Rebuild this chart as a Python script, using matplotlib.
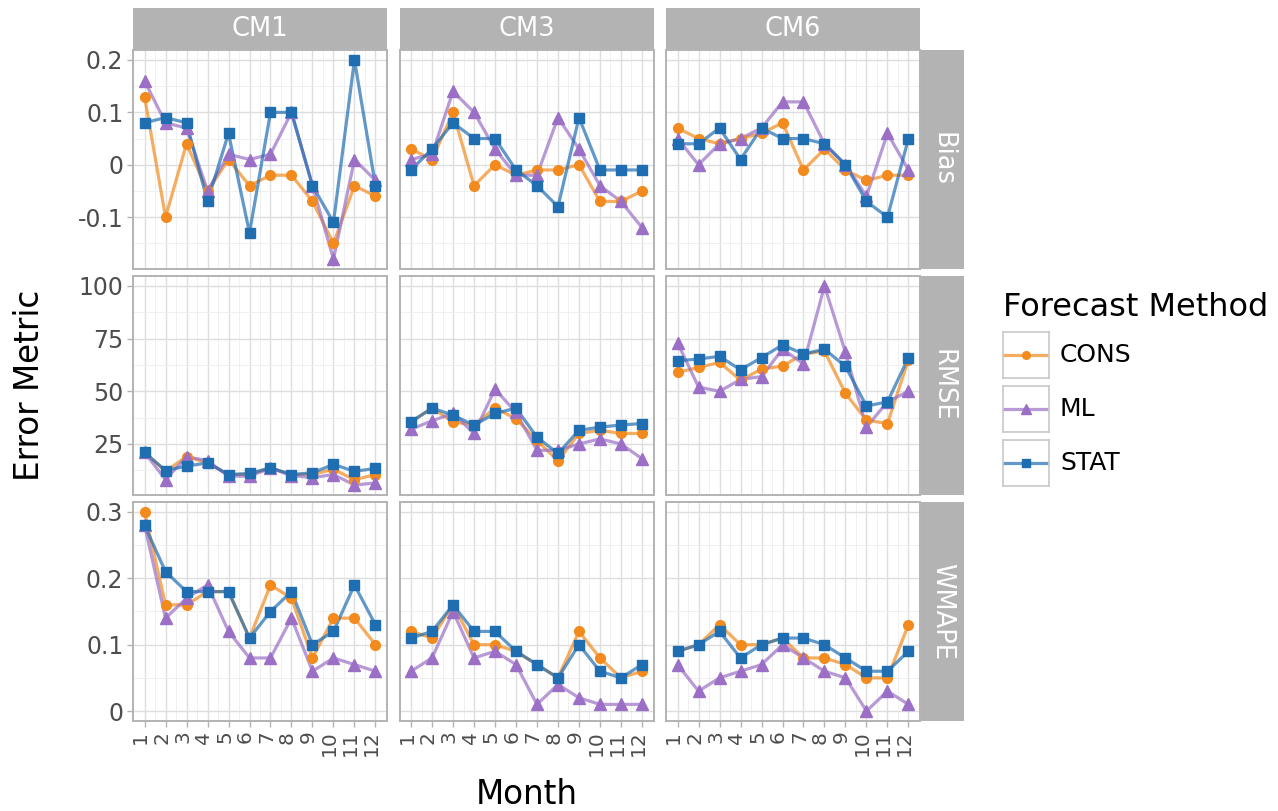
import matplotlib
matplotlib.use("Agg")
import matplotlib.pyplot as plt
import matplotlib.transforms as mtransforms
from matplotlib.ticker import FixedLocator, MultipleLocator

months = list(range(1, 13))
methods = ["CONS", "ML", "STAT"]
cms = ["CM1", "CM3", "CM6"]
metrics = ["Bias", "RMSE", "WMAPE"]

# Bias
cm1_bias_cons = [0.13, -0.10, 0.04, -0.05, 0.01, -0.04, -0.02, -0.02, -0.07, -0.15, -0.04, -0.06]
cm1_bias_ml   = [0.16, 0.08, 0.07, -0.05, 0.02, 0.01, 0.02, 0.10, -0.04, -0.18, 0.01, -0.03]
cm1_bias_stat = [0.08, 0.09, 0.08, -0.07, 0.06, -0.13, 0.10, 0.10, -0.04, -0.11, 0.20, -0.04]
cm3_bias_cons = [0.03, 0.01, 0.10, -0.04, 0.00, -0.02, -0.01, -0.01, 0.00, -0.07, -0.07, -0.05]
cm3_bias_ml   = [0.01, 0.02, 0.14, 0.10, 0.03, -0.02, -0.02, 0.09, 0.03, -0.04, -0.07, -0.12]
cm3_bias_stat = [-0.01, 0.03, 0.08, 0.05, 0.05, -0.01, -0.04, -0.08, 0.09, -0.01, -0.01, -0.01]
cm6_bias_cons = [0.07, 0.05, 0.04, 0.05, 0.06, 0.08, -0.01, 0.03, -0.01, -0.03, -0.02, -0.02]
cm6_bias_ml   = [0.05, 0.00, 0.04, 0.05, 0.07, 0.12, 0.12, 0.04, 0.00, -0.06, 0.06, -0.01]
cm6_bias_stat = [0.04, 0.04, 0.07, 0.01, 0.07, 0.05, 0.05, 0.04, 0.00, -0.07, -0.10, 0.05]

# RMSE
cm1_rmse_cons = [21, 12, 19, 16, 10.5, 10.5, 13.5, 10.5, 10.5, 13, 8, 10.5]
cm1_rmse_ml   = [21, 8, 19, 17, 9.7, 9.7, 13.5, 10, 9, 10.5, 5.5, 6.5]
cm1_rmse_stat = [21, 12.4, 14.5, 16, 10.5, 11, 13.7, 10.5, 11.3, 15.3, 12, 13.4]
cm3_rmse_cons = [35.5, 42, 35.5, 34, 42, 37, 26.6, 17, 30, 31.5, 30, 30]
cm3_rmse_ml   = [32, 36, 39.5, 30, 51, 40, 22, 22, 25, 27.4, 25, 18]
cm3_rmse_stat = [35.5, 42, 38.7, 33.9, 39.5, 42, 28.2, 20.5, 31.5, 33, 34, 34.7]
cm6_rmse_cons = [59, 61.3, 63.7, 55.3, 60.5, 62, 67.7, 69, 49, 36.3, 34.7, 65]
cm6_rmse_ml   = [73, 52, 50, 55.6, 57, 70, 63, 100, 68.5, 33, 45, 50]
cm6_rmse_stat = [64.5, 65.3, 66.6, 60.2, 66, 72, 67.7, 70, 61.8, 43, 45, 66]

# WMAPE
cm1_wmape_cons = [0.30, 0.16, 0.16, 0.18, 0.18, 0.11, 0.19, 0.17, 0.08, 0.14, 0.14, 0.10]
cm1_wmape_ml   = [0.28, 0.14, 0.17, 0.19, 0.12, 0.08, 0.08, 0.14, 0.06, 0.08, 0.07, 0.06]
cm1_wmape_stat = [0.28, 0.21, 0.18, 0.18, 0.18, 0.11, 0.15, 0.18, 0.10, 0.12, 0.19, 0.13]
cm3_wmape_cons = [0.12, 0.11, 0.16, 0.10, 0.10, 0.09, 0.07, 0.05, 0.12, 0.08, 0.05, 0.06]
cm3_wmape_ml   = [0.06, 0.08, 0.15, 0.08, 0.09, 0.07, 0.01, 0.04, 0.02, 0.01, 0.01, 0.01]
cm3_wmape_stat = [0.11, 0.12, 0.16, 0.12, 0.12, 0.09, 0.07, 0.05, 0.10, 0.06, 0.05, 0.07]
cm6_wmape_cons = [0.09, 0.10, 0.13, 0.10, 0.10, 0.11, 0.08, 0.08, 0.07, 0.05, 0.05, 0.13]
cm6_wmape_ml   = [0.07, 0.03, 0.05, 0.06, 0.07, 0.10, 0.08, 0.06, 0.05, 0.00, 0.03, 0.01]
cm6_wmape_stat = [0.09, 0.10, 0.12, 0.08, 0.10, 0.11, 0.11, 0.10, 0.08, 0.06, 0.06, 0.09]

panels = {
    ("Bias", "CM1"): [cm1_bias_cons, cm1_bias_ml, cm1_bias_stat],
    ("Bias", "CM3"): [cm3_bias_cons, cm3_bias_ml, cm3_bias_stat],
    ("Bias", "CM6"): [cm6_bias_cons, cm6_bias_ml, cm6_bias_stat],
    ("RMSE", "CM1"): [cm1_rmse_cons, cm1_rmse_ml, cm1_rmse_stat],
    ("RMSE", "CM3"): [cm3_rmse_cons, cm3_rmse_ml, cm3_rmse_stat],
    ("RMSE", "CM6"): [cm6_rmse_cons, cm6_rmse_ml, cm6_rmse_stat],
    ("WMAPE", "CM1"): [cm1_wmape_cons, cm1_wmape_ml, cm1_wmape_stat],
    ("WMAPE", "CM3"): [cm3_wmape_cons, cm3_wmape_ml, cm3_wmape_stat],
    ("WMAPE", "CM6"): [cm6_wmape_cons, cm6_wmape_ml, cm6_wmape_stat],
}

y_breaks = {
    "Bias": ([-0.1, 0, 0.1, 0.2], ["-0.1", "0", "0.1", "0.2"], 0.05),
    "RMSE": ([25, 50, 75, 100], ["25", "50", "75", "100"], 12.5),
    "WMAPE": ([0, 0.1, 0.2, 0.3], ["0", "0.1", "0.2", "0.3"], 0.05),
}

colors = ["#F28A1E", "#9B6FC6", "#1F6EB2"]
markers = ["o", "^", "s"]
msizes = [7, 8, 7]

W, H = 1278, 811
fig = plt.figure(figsize=(W / 100, H / 100), dpi=100)


def box(x0, y0, w, h):
    return [x0 / W, 1 - (y0 + h) / H, w / W, h / H]


col_x = [133, 399.5, 666]
row_y = [50, 276, 502]
pw, ph = 254, 219
strip_col = "#b3b3b3"
border_col = "#b3b3b3"

axes = {}
for i, metric in enumerate(metrics):
    for j, cm in enumerate(cms):
        ax = fig.add_axes(box(col_x[j], row_y[i], pw, ph))
        if j > 0:
            ax.sharey(axes[(i, 0)])
        if i > 0 or j > 0:
            ax.sharex(axes[(0, 0)])
        axes[(i, j)] = ax
        for k in range(3):
            ax.plot(months, panels[(metric, cm)][k], color=colors[k], lw=2.3,
                    alpha=0.7, zorder=2)
            ax.plot(months, panels[(metric, cm)][k], color=colors[k], lw=0,
                    marker=markers[k], ms=msizes[k], zorder=3)
        ax.set_axisbelow(True)

shift = mtransforms.ScaledTranslation(-4 / 100, 0, fig.dpi_scale_trans)
for (i, j), ax in axes.items():
    metric = metrics[i]
    ticks, labels, minor = y_breaks[metric]
    ax.set_xlim(0.45, 12.55)
    ax.xaxis.set_major_locator(FixedLocator(months))
    ax.xaxis.set_minor_locator(FixedLocator([m + 0.5 for m in months[:-1]]))
    ax.yaxis.set_major_locator(FixedLocator(ticks))
    ax.yaxis.set_minor_locator(MultipleLocator(minor))
    ax.grid(which="major", color="#dedede", lw=1.0)
    ax.grid(which="minor", color="#eeeeee", lw=0.6)
    for s in ax.spines.values():
        s.set_color(border_col)
        s.set_linewidth(1.4)
    ax.tick_params(which="major", color=border_col, length=4, width=1,
                   labelsize=17, labelcolor="#4d4d4d", pad=3)
    ax.tick_params(which="minor", length=0)
    if j == 0:
        ax.set_yticks(ticks)
        ax.set_yticklabels(labels)
    else:
        ax.tick_params(axis="y", labelleft=False, length=0)
    if i == 2:
        ax.set_xticks(months)
        ax.set_xticklabels([str(m) for m in months], rotation=90, va="top",
                           fontsize=14.5)
        for lab in ax.get_xticklabels():
            lab.set_transform(lab.get_transform() + shift)
    else:
        ax.tick_params(axis="x", labelbottom=False, length=0)

# shared y range per row, 5% padding like the source
for i, metric in enumerate(metrics):
    vals = [v for cm in cms for s in panels[(metric, cm)] for v in s]
    lo, hi = min(vals), max(vals)
    pad = 0.05 * (hi - lo)
    axes[(i, 0)].set_ylim(lo - pad, hi + pad)

# strips
for j, cm in enumerate(cms):
    sx = fig.add_axes(box(col_x[j], 8, pw, 41))
    sx.set_facecolor(strip_col)
    sx.set_xticks([]); sx.set_yticks([])
    for s in sx.spines.values():
        s.set_visible(False)
    sx.text(0.5, 0.5, cm, color="white", fontsize=18.5, ha="center", va="center",
            transform=sx.transAxes)

for i, metric in enumerate(metrics):
    sx = fig.add_axes(box(921, row_y[i], 43, ph))
    sx.set_facecolor(strip_col)
    sx.set_xticks([]); sx.set_yticks([])
    for s in sx.spines.values():
        s.set_visible(False)
    sx.text(0.5, 0.5, metric, color="white", fontsize=18.5, ha="center", va="center",
            rotation=-90, transform=sx.transAxes)

fig.text(30 / W, 1 - 385 / H, "Error Metric", rotation=90, fontsize=23.5,
         ha="center", va="center")
fig.text(527 / W, 1 - 795 / H, "Month", fontsize=23.5, ha="center", va="center")

# legend
fig.text(1003 / W, 1 - 308 / H, "Forecast Method", fontsize=23, ha="left", va="center")
for k, name in enumerate(methods):
    ky = 332 + k * 54
    kx = fig.add_axes(box(1003, ky, 46, 46))
    kx.set_xlim(0, 1); kx.set_ylim(0, 1)
    kx.set_xticks([]); kx.set_yticks([])
    for s in kx.spines.values():
        s.set_color("#c8c8c8")
        s.set_linewidth(1.2)
    kx.plot([0, 1], [0.5, 0.5], color=colors[k], lw=2.3, alpha=0.7)
    kx.plot([0.5], [0.5], color=colors[k], marker=markers[k], ms=msizes[k] - 1.5, lw=0)
    fig.text(1060 / W, 1 - (ky + 23) / H, name, fontsize=18, ha="left", va="center")

fig.savefig("out.png", dpi=100)
